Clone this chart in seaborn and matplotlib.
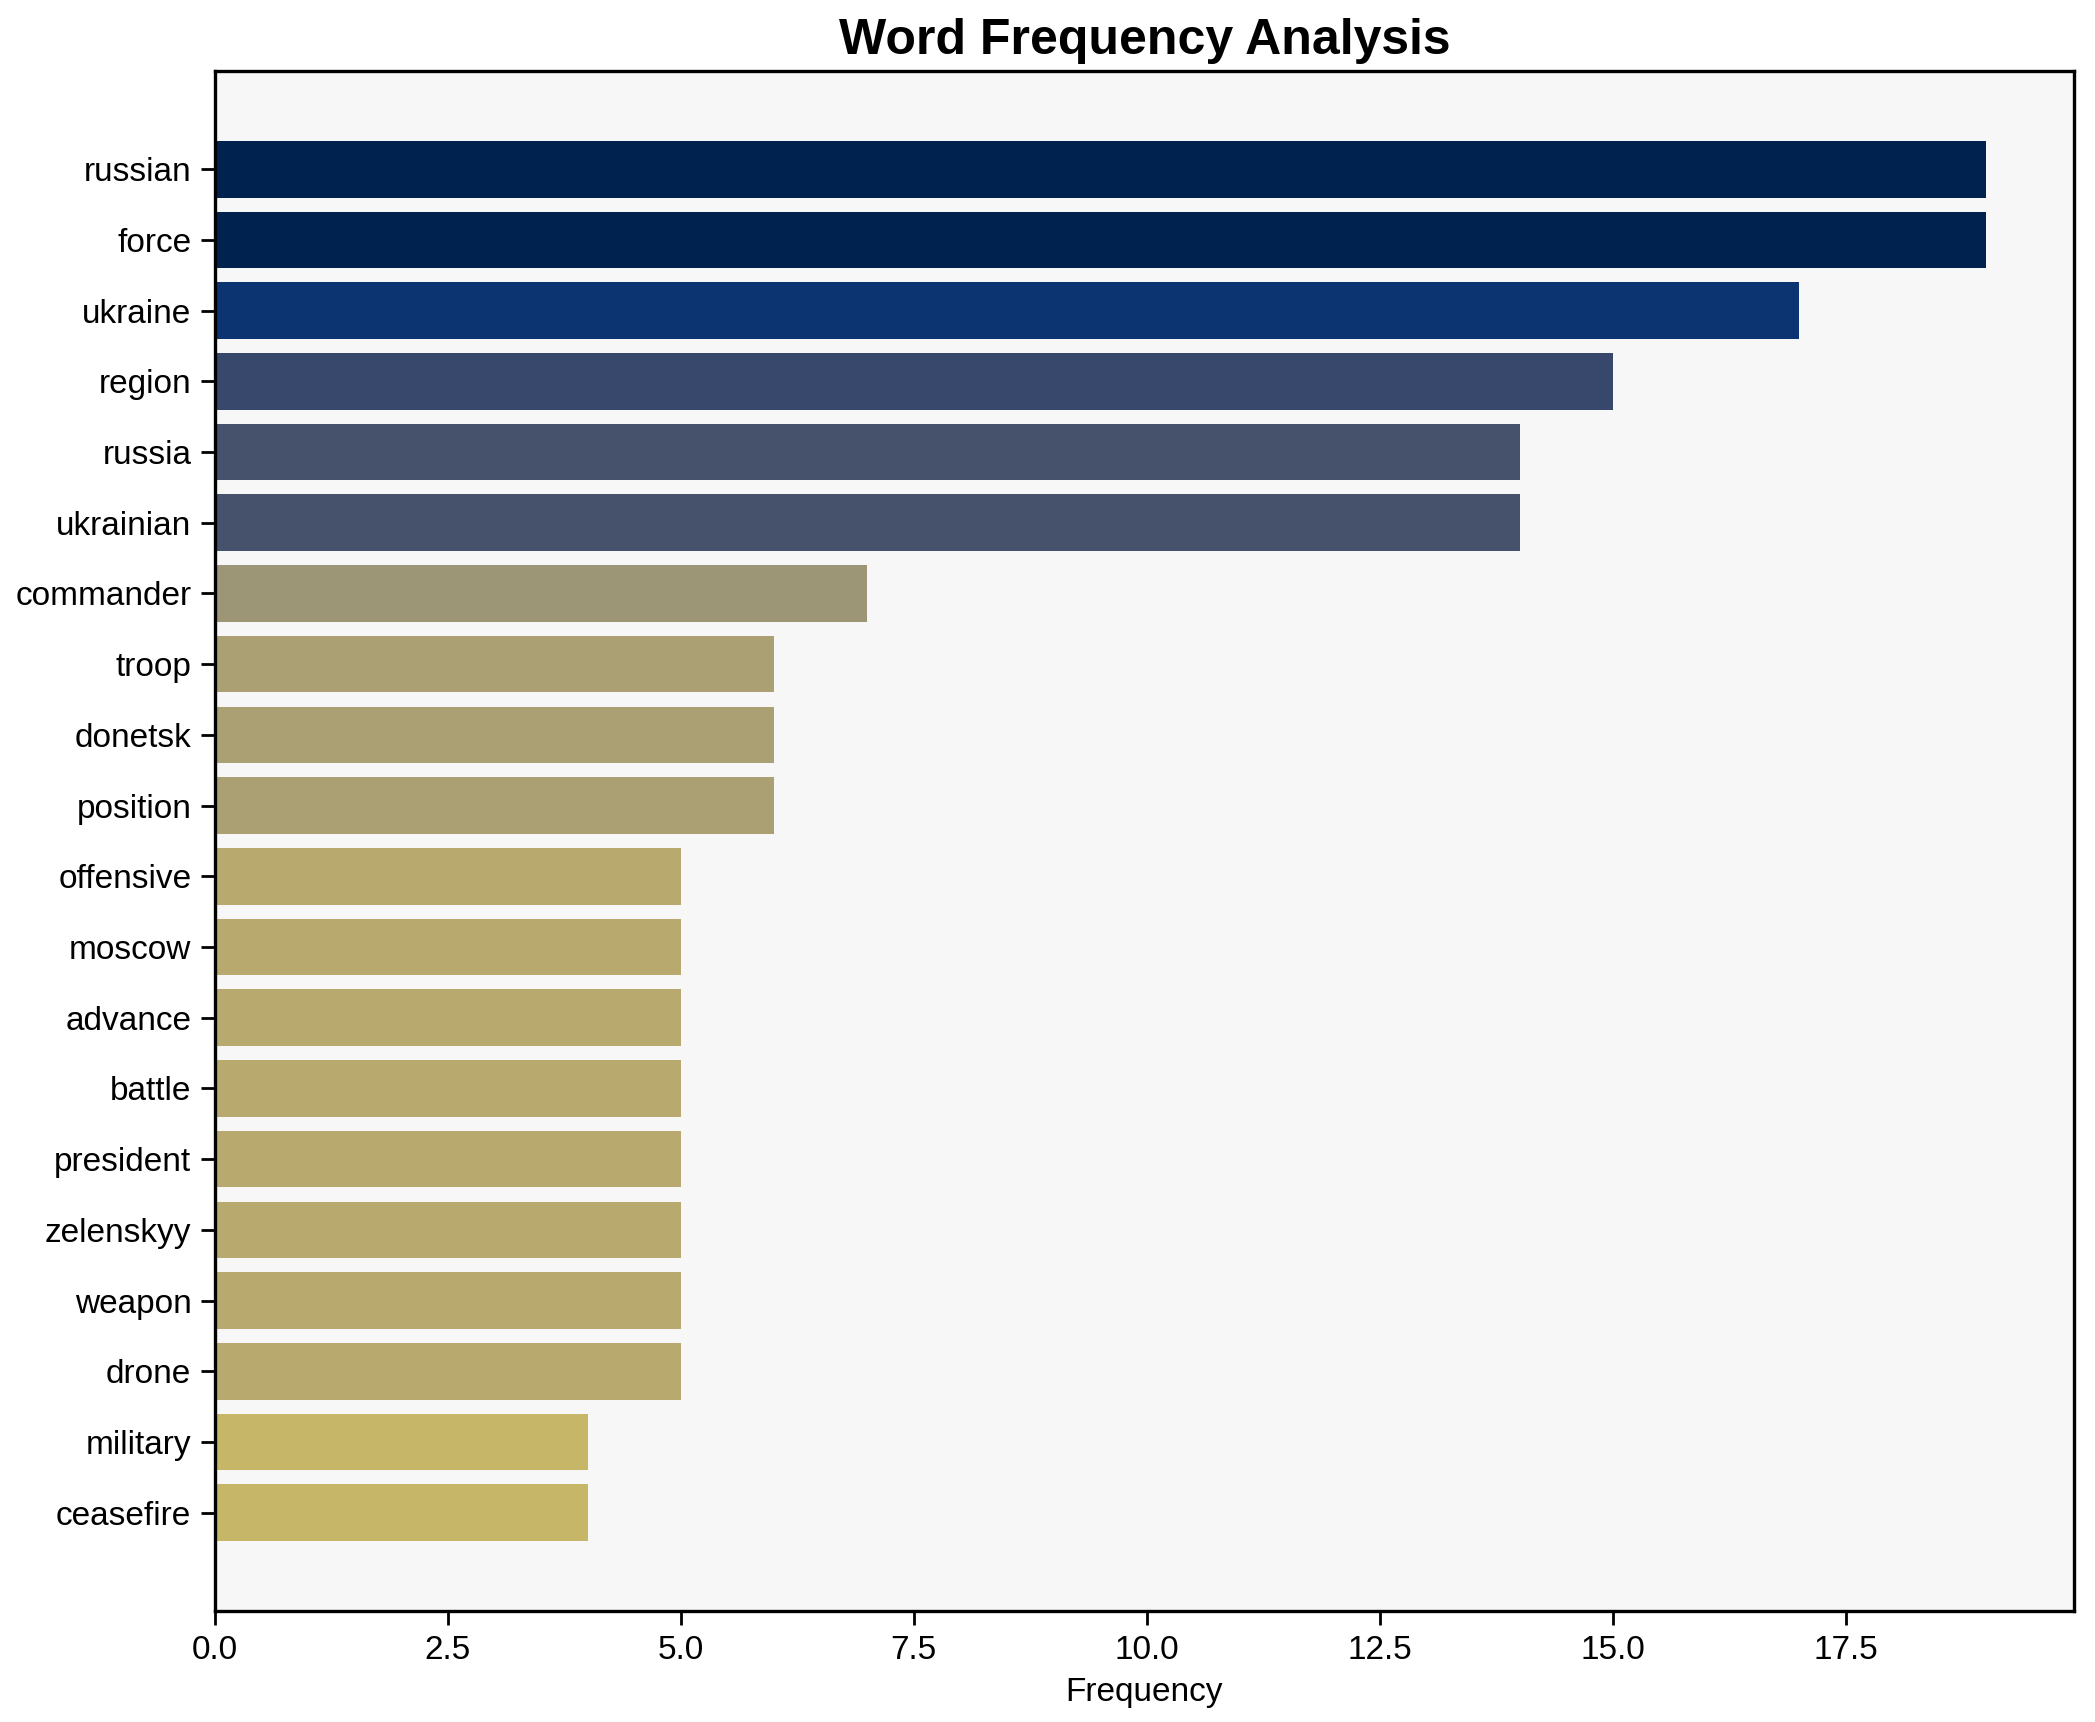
import matplotlib
matplotlib.use("Agg")
import matplotlib.pyplot as plt
import seaborn as sns
import pandas as pd
import numpy as np

words = ["russian", "force", "ukraine", "region", "russia", "ukrainian", "commander",
         "troop", "donetsk", "position", "offensive", "moscow", "advance", "battle",
         "president", "zelenskyy", "weapon", "drone", "military", "ceasefire"]
freqs = [19, 19, 17, 15, 14, 14, 7, 6, 6, 6, 5, 5, 5, 5, 5, 5, 5, 5, 4, 4]

df = pd.DataFrame({"word": words, "freq": freqs})

sns.set_style("white")
plt.rcParams['font.family'] = ['Liberation Sans', 'DejaVu Sans']
plt.rcParams['text.color'] = 'black'
plt.rcParams['axes.labelcolor'] = 'black'
plt.rcParams['xtick.color'] = 'black'
plt.rcParams['ytick.color'] = 'black'

maxf = max(freqs)
cmap = plt.get_cmap("cividis")
palette = [cmap(1 - f / maxf) for f in freqs]

fig = plt.figure(figsize=(10.475, 8.61), dpi=200)
ax = fig.add_axes([0.1026, 0.0645, 0.8874, 0.8943])
ax.set_facecolor("#f7f7f7")

sns.barplot(data=df, y="word", x="freq", hue="word", palette=palette,
            orient="h", width=0.8, legend=False, ax=ax, saturation=1, linewidth=0)

n = len(words)
span = (n - 1 + 0.8)
ax.set_ylim(n - 1 + 0.4 + 0.05 * span, -0.4 - 0.05 * span)
ax.set_xlim(0, max(freqs) * 1.05)

ax.set_title("Word Frequency Analysis", fontsize=18, fontweight="bold", pad=6, color="black")
ax.set_xlabel("Frequency", fontsize=12, color="black")
ax.set_ylabel("")
ax.tick_params(axis="both", labelsize=12, length=5, width=1, colors="black", left=True, bottom=True)
for s in ax.spines.values():
    s.set_color("black")
    s.set_linewidth(1.2)
    s.set_visible(True)

fig.savefig("out.png", dpi=200)
